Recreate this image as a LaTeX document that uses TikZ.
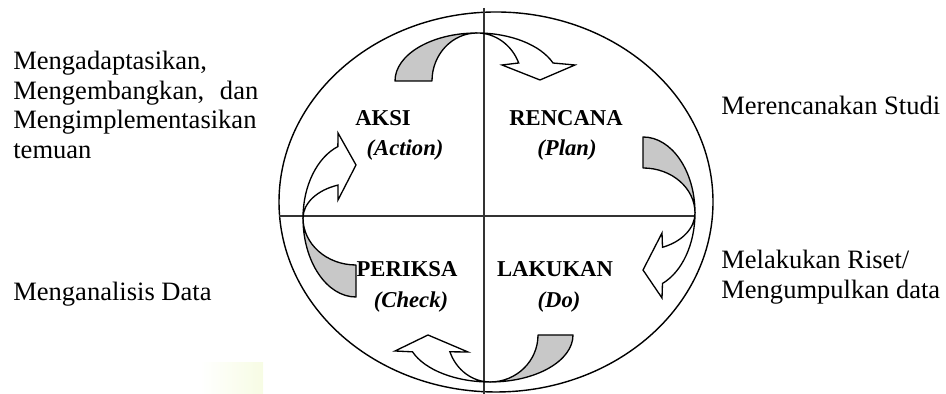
\documentclass[tikz,border=0pt]{standalone}
\usepackage{fontspec}
\setmainfont{Liberation Serif}
\usepackage{tikz}
\definecolor{ShadeGray}{RGB}{200,200,200}
\definecolor{PaleLime}{RGB}{247,252,228}
\tikzset{
  frame/.style={draw=black,line width=0.8pt},
  axis/.style={draw=black!80,line width=1.1pt},
  back/.style={draw=black,fill=ShadeGray,line width=0.75pt,line join=round},
  front/.style={draw=black,fill=white,line width=0.75pt,line join=miter},
}
\tikzset{phase/.style={inner sep=0pt,anchor=base,font=\fontsize{12.9}{14}\selectfont\bfseries},
  phaseen/.style={inner sep=0pt,anchor=base,font=\fontsize{12.9}{14}\selectfont\bfseries\itshape},
  note/.style={inner sep=0pt,align=left,font=\fontsize{15.1}{16.8}\selectfont}}

\begin{document}
\begin{tikzpicture}[x=0.02cm,y=0.02cm]
\useasboundingbox (0,0) rectangle (946,394);
\shade[left color=white,right color=PaleLime] (200,0) rectangle (263,31);
\draw[frame] (496,192) ellipse[x radius=217,y radius=190];
\draw[axis] (484,386) -- (484,0);\draw[axis] (279,178) -- (695,178);
% top: aksi -> rencana
\draw[back] (395,313) arc[start angle=180,end angle=90,x radius=82,y radius=48]
  arc[start angle=90,end angle=180,x radius=45,y radius=48] -- cycle;
\draw[front] (477,361) arc[start angle=90,end angle=22,x radius=82,y radius=48]
  -- (575,329) -- (540,314) -- (502,329) -- (518.7,331)
  arc[start angle=22,end angle=90,x radius=45,y radius=48] -- cycle;
% right: rencana -> lakukan
\draw[back] (643,257) arc[start angle=90,end angle=0,x radius=52,y radius=76]
  arc[start angle=0,end angle=90,x radius=52,y radius=45] -- cycle;
\draw[front] (695,181) arc[start angle=0,end angle=-68,x radius=52,y radius=76]
  -- (662,96) -- (643,124) -- (662,161) -- (662.5,146.7)
  arc[start angle=-68,end angle=0,x radius=52,y radius=37] -- cycle;
% bottom: lakukan -> periksa
\draw[back] (573,59) arc[start angle=0,end angle=-90,x radius=83,y radius=47]
  arc[start angle=-90,end angle=0,x radius=48,y radius=47] -- cycle;
\draw[front] (490,12) arc[start angle=-90,end angle=-159,x radius=83,y radius=47]
  -- (395,43) -- (428,59) -- (468,42) -- (449.9,42.2)
  arc[start angle=-159,end angle=-90,x radius=43,y radius=47] -- cycle;
% left: periksa -> aksi
\draw[back] (356,97) arc[start angle=270,end angle=180,x radius=53,y radius=79]
  arc[start angle=180,end angle=270,x radius=53,y radius=47] -- cycle;
\draw[front] (303,176) arc[start angle=180,end angle=110,x radius=53,y radius=76]
  -- (338,261) -- (356,229) -- (338,194) -- (337.9,208.9)
  arc[start angle=110,end angle=180,x radius=53,y radius=35] -- cycle;
% quadrants
\node[phase](aksi) at (383,268){AKSI};\node[phaseen](action) at (405,238){(Action)};
\node[phase](rencana) at (566,268){RENCANA};\node[phaseen](plan) at (567,238){(Plan)};
\node[phase](periksa) at (407,117){PERIKSA};\node[phaseen](check) at (411,86){(Check)};
\node[phase](lakukan) at (555,117){LAKUKAN};\node[phaseen](do) at (559,86){(Do)};
% side notes
\node[note,anchor=north west,text width=4.9cm](adapt) at (13,343){Mengadaptasikan,\\Mengembangkan,\hfill dan\\Mengimplementasikan\\temuan};
\node[note,anchor=base west](study) at (721,279){Merencanakan Studi};
\node[note,anchor=north west](riset) at (721,144){Melakukan Riset/\\Mengumpulkan data};
\node[note,anchor=base west](analysis) at (13,93){Menganalisis Data};
\end{tikzpicture}
\end{document}
